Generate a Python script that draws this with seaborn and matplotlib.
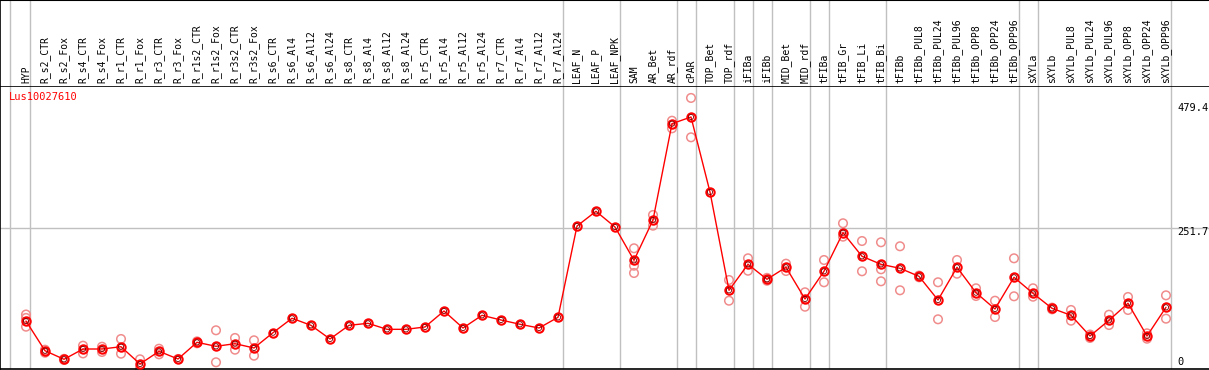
import numpy as np
import pandas as pd
import matplotlib
matplotlib.use("Agg")
import matplotlib.pyplot as plt
import seaborn as sns

# ------------------------------------------------------------
# datos
# ------------------------------------------------------------
muestras = [
    "HYP", "R_s2_CTR", "R_s2_Fox", "R_s4_CTR", "R_s4_Fox", "R_r1_CTR", "R_r1_Fox",
    "R_r3_CTR", "R_r3_Fox", "R_r1s2_CTR", "R_r1s2_Fox", "R_r3s2_CTR", "R_r3s2_Fox",
    "R_s6_CTR", "R_s6_Al4", "R_s6_Al12", "R_s6_Al24",
    "R_s8_CTR", "R_s8_Al4", "R_s8_Al12", "R_s8_Al24",
    "R_r5_CTR", "R_r5_Al4", "R_r5_Al12", "R_r5_Al24",
    "R_r7_CTR", "R_r7_Al4", "R_r7_Al12", "R_r7_Al24",
    "LEAF_N", "LEAF_P", "LEAF_NPK", "SAM", "AR_Bet", "AR_rdf", "cPAR",
    "TOP_Bet", "TOP_rdf", "iFIBa", "iFIBb", "MID_Bet", "MID_rdf",
    "tFIBa", "tFIB_Gr", "tFIB_Li", "tFIB_Bi", "tFIBb",
    "tFIBb_PUL8", "tFIBb_PUL24", "tFIBb_PUL96", "tFIBb_OPP8", "tFIBb_OPP24", "tFIBb_OPP96",
    "sXYLa", "sXYLb", "sXYLb_PUL8", "sXYLb_PUL24", "sXYLb_PUL96",
    "sXYLb_OPP8", "sXYLb_OPP24", "sXYLb_OPP96",
]

# media por muestra
media = [
    89.6, 37.7, 22.7, 40.7, 40.7, 44.7, 14.5, 36.7, 23.2, 52.4, 45.4, 50.0, 42.5,
    69.2, 94.4, 82.1, 58.2, 82.1, 85.6, 75.1, 75.1, 79.2, 107.1, 77.4, 99.6,
    91.4, 83.9, 77.4, 96.1,
    255.6, 281.3, 253.9, 195.7, 266.1, 434.4, 446.1,
    315.0, 143.3, 188.7, 162.5, 183.5, 128.1,
    176.5, 243.9, 202.7, 188.7, 181.7,
    167.7, 126.3, 183.5, 139.1, 110.6, 166.0,
    138.0, 111.8, 99.6, 63.4, 90.9, 120.6, 63.4, 113.6,
]

# replicas (muestra, valor)
rep_muestra = [
    "HYP", "HYP", "HYP", "R_s2_CTR", "R_s2_CTR", "R_s2_Fox", "R_s2_Fox",
    "R_s4_CTR", "R_s4_CTR", "R_s4_Fox", "R_s4_Fox", "R_r1_CTR", "R_r1_CTR",
    "R_r1_Fox", "R_r1_Fox", "R_r3_CTR", "R_r3_CTR", "R_r3_Fox",
    "R_r1s2_CTR", "R_r1s2_CTR", "R_r1s2_Fox", "R_r1s2_Fox",
    "R_r3s2_CTR", "R_r3s2_CTR", "R_r3s2_Fox", "R_r3s2_Fox",
    "SAM", "SAM", "SAM", "AR_Bet", "AR_Bet", "AR_rdf", "AR_rdf", "cPAR", "cPAR",
    "TOP_rdf", "TOP_rdf", "iFIBa", "iFIBa", "iFIBb", "iFIBb", "MID_Bet", "MID_Bet",
    "MID_rdf", "MID_rdf", "tFIBa", "tFIBa", "tFIB_Gr", "tFIB_Gr", "tFIB_Li", "tFIB_Li",
    "tFIB_Bi", "tFIB_Bi", "tFIB_Bi", "tFIBb", "tFIBb", "tFIBb_PUL8", "tFIBb_PUL8",
    "tFIBb_PUL24", "tFIBb_PUL24", "tFIBb_PUL96", "tFIBb_PUL96",
    "tFIBb_OPP8", "tFIBb_OPP8", "tFIBb_OPP24", "tFIBb_OPP24", "tFIBb_OPP96", "tFIBb_OPP96",
    "sXYLa", "sXYLa", "sXYLb", "sXYLb", "sXYLb_PUL8", "sXYLb_PUL8",
    "sXYLb_PUL24", "sXYLb_PUL24", "sXYLb_PUL96", "sXYLb_PUL96",
    "sXYLb_OPP8", "sXYLb_OPP8", "sXYLb_OPP24", "sXYLb_OPP24", "sXYLb_OPP96", "sXYLb_OPP96",
]
rep_valor = [
    101.0, 95.0, 79.7, 39.5, 34.2, 23.5, 21.5,
    46.5, 33.0, 44.7, 35.5, 58.2, 32.5,
    22.7, 7.0, 41.2, 31.4, 23.2,
    54.0, 50.7, 73.4, 17.5,
    60.0, 39.5, 55.9, 29.0,
    216.7, 186.3, 173.5, 274.9, 256.2, 439.6, 426.3, 479.4, 410.6,
    161.3, 125.1, 199.2, 177.5, 165.0, 160.0, 189.8, 177.0,
    139.8, 114.6, 196.2, 157.3, 260.4, 237.0, 229.4, 176.5,
    227.2, 180.0, 159.0, 220.2, 143.3, 169.0, 166.0,
    157.3, 92.6, 196.2, 172.3,
    146.8, 133.3, 125.1, 96.6, 199.2, 132.8,
    146.8, 132.1, 113.0, 110.0, 108.9, 90.2,
    66.0, 60.0, 100.6, 82.6,
    131.6, 108.9, 68.1, 58.7, 134.5, 93.7,
]

gen = "Lus10027610"
ticks_y = [479.4, 251.7, 0]

# ultima muestra de cada grupo (lineas verticales)
fin_grupo = ["HYP", "R_r7_Al24", "LEAF_NPK", "AR_rdf", "cPAR", "TOP_rdf", "iFIBa",
             "iFIBb", "MID_rdf", "tFIBa", "tFIB_Bi", "tFIBb_OPP96", "sXYLa", "sXYLb_OPP96"]

# ------------------------------------------------------------
# tablas
# ------------------------------------------------------------
pos = {m: i for i, m in enumerate(muestras)}
df_media = pd.DataFrame({"x": np.arange(len(muestras)), "valor": media})
df_rep = pd.DataFrame({"x": [pos[m] for m in rep_muestra], "valor": rep_valor})

sns.set_style("white")
plt.rcParams["font.family"] = ["DejaVu Sans Mono", "DejaVu Sans"]

W, H = 1209, 370
fig = plt.figure(figsize=(W / 100, H / 100), dpi=100)

# eje x: muestra i en el pixel 26 + 19 i
x0, dx = 26, 19
xlim = ((0 - x0) / dx, (W - x0) / dx)

# eje y: 0 un poco por debajo del borde inferior
esc = 0.5723
cero = 372.3
y_top_px, y_bot_px = 86, 369
ylim = ((cero - y_bot_px) / esc, (cero - y_top_px) / esc)

ax = fig.add_axes([0, (H - y_bot_px) / H, 1, (y_bot_px - y_top_px) / H])
cab = fig.add_axes([0, (H - y_top_px) / H, 1, y_top_px / H - 0.001])

for a in (ax, cab):
    a.set_xlim(*xlim)
    a.set_xticks([])
    a.set_yticks([])
    a.set_facecolor("white")
    for s in a.spines.values():
        s.set_visible(False)
    a.spines["left"].set_visible(True)
    a.spines["left"].set_color("black")
    a.spines["left"].set_linewidth(1.2)

ax.set_ylim(*ylim)
ax.spines["bottom"].set_visible(True)
ax.spines["bottom"].set_color("black")
ax.spines["bottom"].set_linewidth(1.2)
ax.spines["top"].set_visible(True)
ax.spines["top"].set_color("black")
ax.spines["top"].set_linewidth(1.2)
cab.spines["top"].set_visible(True)
cab.spines["top"].set_color("black")
cab.spines["top"].set_linewidth(1.5)
cab.set_ylim(0, 1)

# lineas de separacion
lineas_x = [(10 - x0) / dx] + [pos[m] + 4.5 / dx for m in fin_grupo]
for lx in lineas_x:
    ax.axvline(lx, color="#c0c0c0", lw=1, zorder=0)
    cab.axvline(lx, color="#c0c0c0", lw=1, zorder=0)
ax.axhline(ticks_y[1], color="#c0c0c0", lw=1, zorder=0)

# etiquetas de muestras
for i, m in enumerate(muestras):
    cab.text(i, 3 / y_top_px, m, rotation=90, ha="center", va="bottom",
             fontsize=7, color="black")

# replicas
sns.scatterplot(data=df_rep, x="x", y="valor", ax=ax, marker="o", s=38,
                facecolor="none", edgecolor="#f08c8c", linewidth=1.1,
                zorder=2, clip_on=False, legend=False)

# media
sns.lineplot(data=df_media, x="x", y="valor", ax=ax, color="red", lw=1,
             marker="o", markersize=6, markerfacecolor="none",
             markeredgecolor="red", markeredgewidth=1.5, zorder=3, clip_on=False)
sns.scatterplot(data=df_media, x="x", y="valor", ax=ax, marker="o", s=14,
                facecolor="none", edgecolor="#7a0000", linewidth=0.6,
                zorder=4, clip_on=False, legend=False)

ax.set_xlabel("")
ax.set_ylabel("")
ax.set_xlim(*xlim)
ax.set_ylim(*ylim)

# textos
ax.text(9 / W, 1 - 11 / (y_bot_px - y_top_px), gen, transform=ax.transAxes,
        color="red", fontsize=7.5, ha="left", va="center")
pos_lbl = [108, 232, 362]
for v, py in zip(ticks_y, pos_lbl):
    ax.text(1177 / W, 1 - (py - y_top_px) / (y_bot_px - y_top_px), f"{v:g}",
            transform=ax.transAxes, fontsize=7.5, ha="left", va="center", color="black")

fig.savefig("out.png", dpi=100)
